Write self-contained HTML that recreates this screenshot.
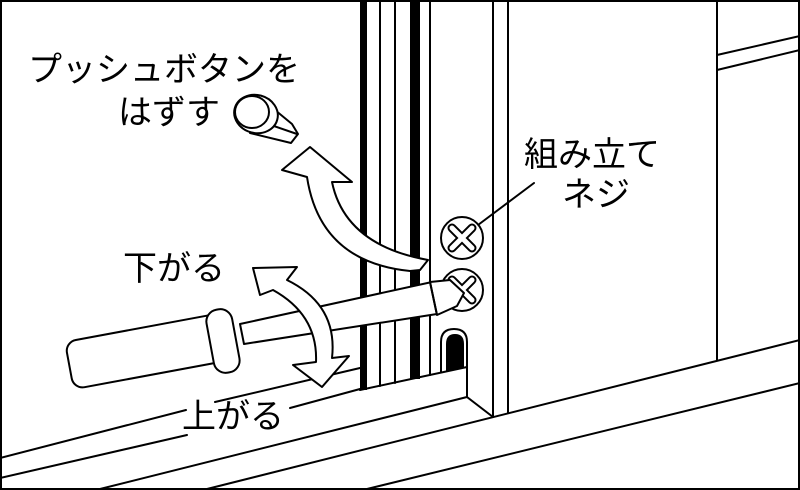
<!DOCTYPE html>
<html><head><meta charset="utf-8"><style>
html,body{margin:0;padding:0;background:#fff}
svg{display:block}
text{font-family:"Liberation Sans","Noto Sans CJK JP",sans-serif;fill:#000}
</style></head><body>
<svg width="800" height="490" viewBox="0 0 800 490" xmlns="http://www.w3.org/2000/svg">
<rect x="0" y="0" width="800" height="490" fill="#fff"/>
<g stroke="#000" stroke-width="2" fill="none" stroke-linecap="round">
  <rect x="360" y="0" width="7" height="390" fill="#000" stroke="none"/>
  <line x1="380" y1="0" x2="380" y2="386"/>
  <line x1="395" y1="0" x2="395" y2="383"/>
  <rect x="410" y="0" width="10" height="379" fill="#000" stroke="none"/>
  <line x1="430" y1="0" x2="430" y2="375"/>
  <line x1="493" y1="0" x2="493" y2="417"/>
  <line x1="508" y1="0" x2="508" y2="413"/>
  <line x1="717" y1="0" x2="717" y2="360"/>
  <line x1="717" y1="55" x2="800" y2="36"/>
  <line x1="717" y1="70" x2="800" y2="50"/>
  <path d="M441,372 L441,342 Q441,329 454,329 Q467,329 467,342 L467,368" fill="#fff"/>
  <path d="M446,371 L446,344 Q446,334 455,334 Q464,334 464,344 L464,368 Z" fill="#000" stroke="none"/>
  <path d="M360,390 L467,367 L467,397 L493,417" fill="none"/>
  <line x1="100" y1="489" x2="467" y2="397"/>
  <line x1="207" y1="489" x2="800" y2="340"/>
  <line x1="367" y1="489" x2="800" y2="383"/>
  <line x1="0" y1="458" x2="186" y2="410"/>
  <line x1="290" y1="408" x2="360" y2="389"/>
  <line x1="0" y1="478" x2="187" y2="435"/>
  <line x1="215" y1="402" x2="360" y2="368"/>
  <line x1="478" y1="225" x2="534" y2="183"/>
  <circle cx="462" cy="238" r="21" fill="#fff"/>
  <circle cx="462" cy="290" r="21" fill="#fff"/>
</g>
<g stroke-linecap="round">
  <path d="M452,228 L472,248 M472,228 L452,248" stroke="#000" stroke-width="9"/>
  <path d="M452,228 L472,248 M472,228 L452,248" stroke="#fff" stroke-width="5"/>
  <path d="M452,280 L472,300 M472,280 L452,300" stroke="#000" stroke-width="9"/>
  <path d="M452,280 L472,300 M472,280 L452,300" stroke="#fff" stroke-width="5"/>
</g>
<g stroke="#000" stroke-width="2" fill="#fff" stroke-linejoin="round">
  <polygon points="240,324 432,282 437,314 244,344"/>
  <polygon points="430,282 450,280 464,293 457,306 437,315"/>
  <line x1="430" y1="282" x2="437" y2="315"/>
  <rect x="68" y="327" width="160" height="48" rx="11" transform="rotate(-10.5 148 351)"/>
  <rect x="210" y="309" width="26" height="64" rx="12" transform="rotate(-10.5 223 341)"/>
  <path d="M282,170 L310,147 L352,182 L332,182 Q345,245 428,260 L420,270 L410,271 Q320,262 307,177 Z"/>
  <path d="M253,268 L297,267 L287,280 Q338,305 332,358 L349,356 L322,387 L293,365 L316,362 Q318,315 273,290 L260,295 Z"/>
  <path d="M258,96 L292,124 L298,134 L291,143 L250,133 Z"/>
  <line x1="268" y1="124" x2="297" y2="134"/>
  <ellipse cx="256" cy="114" rx="22" ry="19" transform="rotate(15 256 114)"/>
  <ellipse cx="252" cy="112" rx="17" ry="16"/>
</g>
<rect x="1" y="1" width="798" height="488" fill="none" stroke="#000" stroke-width="2"/>
<g font-size="34">
  <text x="28" y="81">プッシュボタンを</text>
  <text x="118" y="124">はずす</text>
  <text x="524" y="166">組み立て</text>
  <text x="562" y="206">ネジ</text>
  <text x="123" y="280">下がる</text>
  <text x="182" y="428">上がる</text>
</g>
</svg>
</body></html>
